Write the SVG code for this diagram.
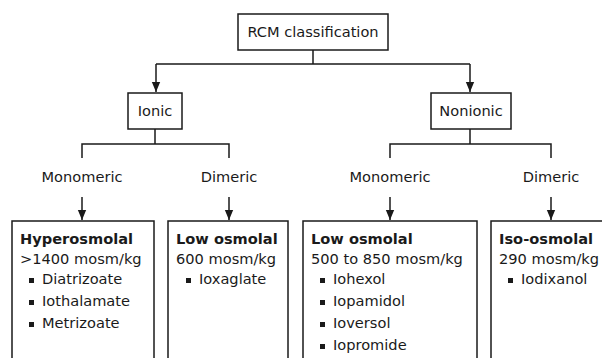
<svg xmlns="http://www.w3.org/2000/svg" width="602" height="358" viewBox="0 0 602 358">
<defs>
<marker id="ah2" markerWidth="10" markerHeight="12" refX="12" refY="5" orient="auto" markerUnits="userSpaceOnUse" viewBox="0 0 12 10">
<path d="M0,0 L12,5 L0,10 Z" fill="#1a1a1a"/>
</marker>
<style>
.box{fill:#fff;stroke:#1a1a1a;stroke-width:1.5}
.ln{fill:none;stroke:#1a1a1a;stroke-width:1.5}
text{font-family:"DejaVu Sans",Verdana,sans-serif;font-size:14.6px;fill:#1a1a1a}
.c{text-anchor:middle}
.b{font-weight:bold}
.sq{fill:#1a1a1a}
</style>
</defs>
<g id="connectors">
<path class="ln" d="M313,50 V64 M156,64 H470"/>
<path class="ln" d="M156,64 V92" marker-end="url(#ah2)"/>
<path class="ln" d="M470,64 V92" marker-end="url(#ah2)"/>
<path class="ln" d="M155,129 V144 M82,158 V144 H229 V158"/>
<path class="ln" d="M470,129 V144 M390,158 V144 H551 V158"/>
<path class="ln" d="M82,197 V220" marker-end="url(#ah2)"/>
<path class="ln" d="M229,197 V220" marker-end="url(#ah2)"/>
<path class="ln" d="M390,197 V220" marker-end="url(#ah2)"/>
<path class="ln" d="M551,197 V220" marker-end="url(#ah2)"/>
</g>
<g id="rcm">
<rect class="box" x="238" y="14" width="150" height="36"/>
<text class="c" x="313" y="37">RCM classification</text>
</g>
<g id="ionic">
<rect class="box" x="128" y="93" width="54" height="36"/>
<text class="c" x="155" y="116">Ionic</text>
</g>
<g id="nonionic">
<rect class="box" x="431" y="93" width="80" height="36"/>
<text class="c" x="471" y="116">Nonionic</text>
</g>
<g id="label-ionic-mono"><text class="c" x="82" y="182">Monomeric</text></g>
<g id="label-ionic-di"><text class="c" x="229" y="182">Dimeric</text></g>
<g id="label-nonionic-mono"><text class="c" x="390" y="182">Monomeric</text></g>
<g id="label-nonionic-di"><text class="c" x="551" y="182">Dimeric</text></g>
<g id="hyperosmolal">
<rect class="box" x="12" y="221" width="142" height="150"/>
<text class="b" x="20" y="244">Hyperosmolal</text>
<text x="20" y="264">&gt;1400 mosm/kg</text>
<rect class="sq" x="29" y="278" width="5" height="5"/><text x="42" y="284">Diatrizoate</text>
<rect class="sq" x="29" y="300" width="5" height="5"/><text x="42" y="306">Iothalamate</text>
<rect class="sq" x="29" y="322" width="5" height="5"/><text x="42" y="328">Metrizoate</text>
</g>
<g id="low-ionic">
<rect class="box" x="168" y="221" width="120" height="150"/>
<text class="b" x="176" y="244">Low osmolal</text>
<text x="176" y="264">600 mosm/kg</text>
<rect class="sq" x="186" y="278" width="5" height="5"/><text x="199" y="284">Ioxaglate</text>
</g>
<g id="low-nonionic">
<rect class="box" x="303" y="221" width="174" height="150"/>
<text class="b" x="311" y="244">Low osmolal</text>
<text x="311" y="264">500 to 850 mosm/kg</text>
<rect class="sq" x="320" y="278" width="5" height="5"/><text x="333" y="284">Iohexol</text>
<rect class="sq" x="320" y="300" width="5" height="5"/><text x="333" y="306">Iopamidol</text>
<rect class="sq" x="320" y="322" width="5" height="5"/><text x="333" y="328">Ioversol</text>
<rect class="sq" x="320" y="344" width="5" height="5"/><text x="333" y="350">Iopromide</text>
</g>
<g id="iso">
<rect class="box" x="491" y="221" width="140" height="150"/>
<text class="b" x="499" y="244">Iso-osmolal</text>
<text x="499" y="264">290 mosm/kg</text>
<rect class="sq" x="508" y="278" width="5" height="5"/><text x="521" y="284">Iodixanol</text>
</g>
</svg>
